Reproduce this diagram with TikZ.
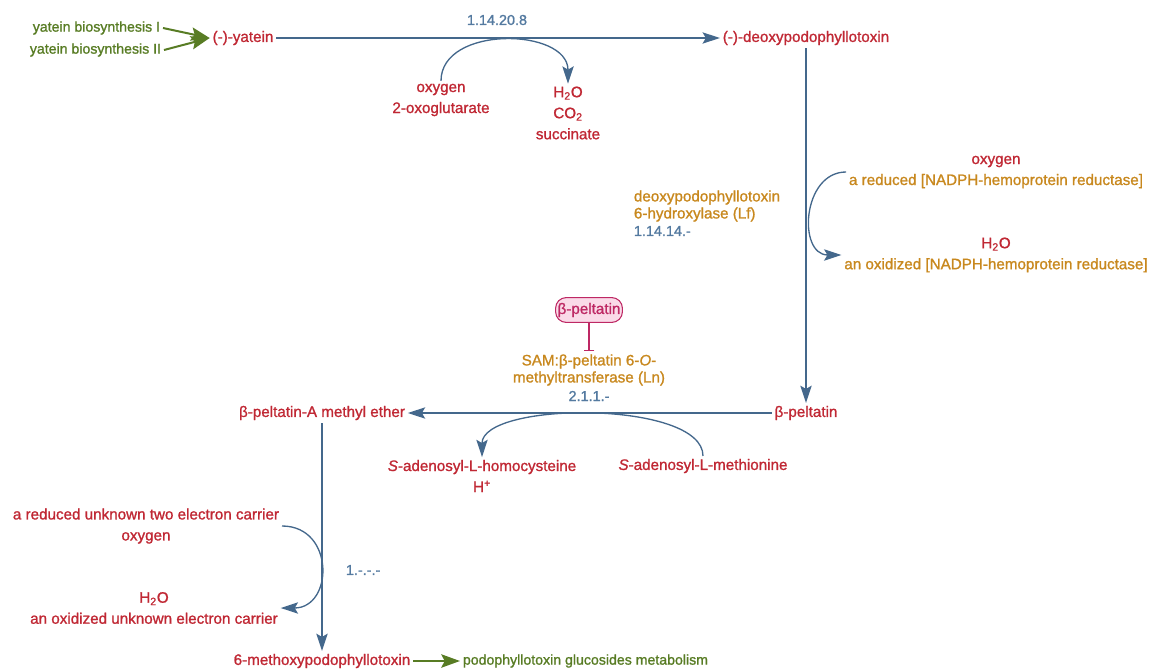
\documentclass[tikz,border=0pt]{standalone}
\usepackage{fontspec}
\setmainfont{Liberation Sans}[FakeBold=1.2]
\usetikzlibrary{arrows.meta}

\definecolor{cpdred}{RGB}{192,40,52}
\definecolor{pathgreen}{RGB}{88,124,36}
\definecolor{lineblue}{RGB}{68,104,140}
\definecolor{ecblue}{RGB}{84,122,160}
\definecolor{enzorange}{RGB}{200,136,30}
\definecolor{inhmag}{RGB}{190,40,100}
\definecolor{inhpink}{RGB}{250,218,232}

\tikzset{
    cpd/.style={text=cpdred, inner sep=2pt, align=center},
    pwy/.style={text=pathgreen, inner sep=2pt, font=\fontsize{10.6}{15.75}\selectfont},
    enz/.style={text=enzorange, inner sep=2pt, align=center,
        font=\fontsize{11.4}{12.75}\selectfont},
    ec/.style={text=ecblue, inner sep=2pt, font=\fontsize{10.8}{15.75}\selectfont},
    rxn/.style={draw=lineblue, line width=1pt,
        -{Stealth[length=13pt,width=8.5pt,inset=2.5pt]}},
    side/.style={rxn},
    link/.style={draw=pathgreen, line width=1.5pt,
        -{Stealth[length=14pt,width=10pt,inset=2.5pt]}},
    inhib/.style={draw=inhmag, line width=0.8pt, -{Bar[width=8pt]}},
    reg/.style={draw=inhmag, fill=inhpink, text=inhmag, line width=0.8pt,
        rounded corners=8pt, inner xsep=1.5pt, inner ysep=4pt}
}

\begin{document}
\begin{tikzpicture}[x=0.75pt, y=-0.75pt, font=\fontsize{11.4}{15.75}\selectfont]

  \useasboundingbox (0,0) rectangle (1151,670);

  % Zufluss
  \node[pwy, anchor=east] (yb1) at (163,28) {yatein biosynthesis I};
  \node[pwy, anchor=east] (yb2) at (164,50) {yatein biosynthesis II};

  % Verbindungen
  \node[cpd] (yat) at (243,38) {(-)-yatein};
  \node[cpd] (deoxy) at (806,38) {(-)-deoxypodophyllotoxin};
  \node[cpd] (pelt) at (806,413) {β-peltatin};
  \node[cpd] (ame) at (322,413) {β-peltatin-A methyl ether};
  \node[cpd] (mpt) at (322,661) {6-methoxypodophyllotoxin};

  % Abfluss
  \node[pwy, anchor=west] (pgm) at (460,661) {podophyllotoxin glucosides metabolism};

  % Schritt 1
  \node[ec] (ec1) at (497,20) {1.14.20.8};
  \node[cpd] (in1) at (441,100) {oxygen\\2-oxoglutarate};
  \node[cpd] (out1) at (568,113) {H\textsubscript{2}O\\CO\textsubscript{2}\\succinate};

  % Schritt 2
  \node[enz, anchor=west, align=left] (enz1) at (631,206) {deoxypodophyllotoxin\\6-hydroxylase (Lf)};
  \node[ec, anchor=west] (ec2) at (631,231) {1.14.14.-};
  \node[cpd] (in2) at (996,172) {oxygen\\\textcolor{enzorange}{a reduced [NADPH-hemoprotein reductase]}};
  \node[cpd] (out2) at (996,255) {H\textsubscript{2}O\\\textcolor{enzorange}{an oxidized [NADPH-hemoprotein reductase]}};

  % Schritt 3
  \node[reg] (inh) at (589,310) {β-peltatin};
  \node[enz] (enz2) at (589,370) {SAM:β-peltatin 6-\textit{O}-\\methyltransferase (Ln)};
  \node[ec] (ec3) at (589,396) {2.1.1.-};
  \node[cpd] (sam) at (703,466) {\textit{S}-adenosyl-L-methionine};
  \node[cpd] (sah) at (482,476) {\textit{S}-adenosyl-L-homocysteine\\H\textsuperscript{+}};

  % Schritt 4
  \node[cpd] (in3) at (146,526) {a reduced unknown two electron carrier\\oxygen};
  \node[cpd] (out3) at (154,608) {H\textsubscript{2}O\\an oxidized unknown electron carrier};
  \node[ec, anchor=west] (ec4) at (343,570) {1.-.-.-};

  % Pfeile
  \draw[link] (yb1.east) -- (yat.west);
  \draw[link] (yb2.east) -- (yat.west);
  \draw[rxn] (yat) -- (deoxy);
  \draw[side] (in1.north) .. controls +(0,-56) and +(0,-56) .. (out1.north);
  \draw[rxn] (deoxy) -- (pelt);
  \draw[side] (in2.west) .. controls +(-44,0) and +(-44,0) .. (out2.west);
  \draw[inhib] (inh) -- (enz2);
  \draw[rxn] (pelt) -- (ame);
  \draw[side] (sam.north) .. controls +(0,-56) and +(0,-56) .. (sah.north);
  \draw[rxn] (ame) -- (mpt);
  \draw[side] (in3.east) .. controls +(53,0) and +(53,0) .. (out3.east);
  \draw[link] (mpt) -- (pgm);

\end{tikzpicture}
\end{document}
